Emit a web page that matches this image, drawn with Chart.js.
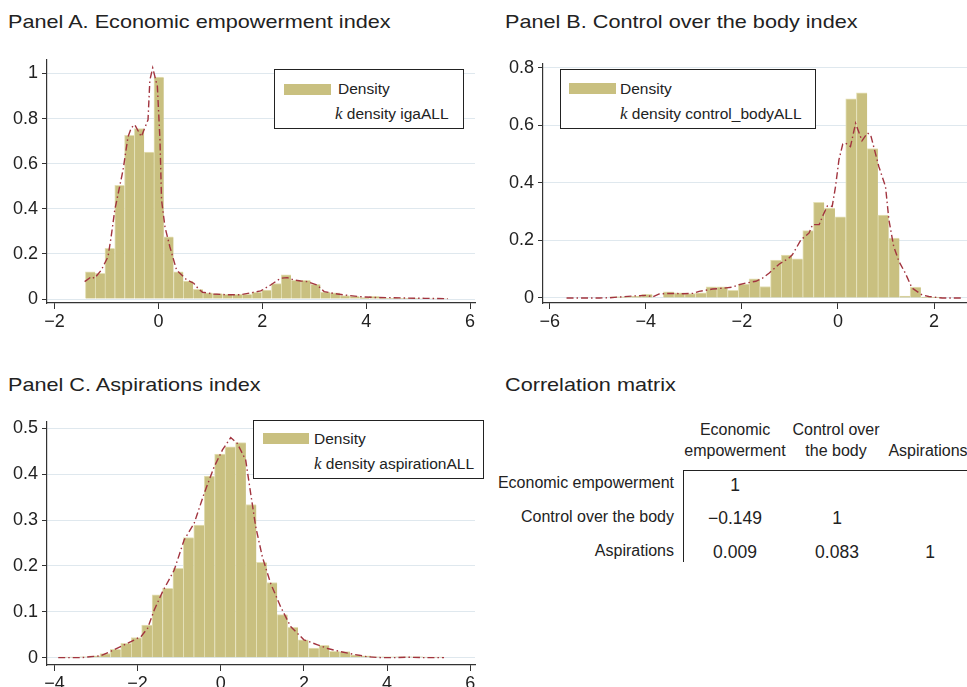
<!DOCTYPE html>
<html>
<head>
<meta charset="utf-8">
<script src="https://cdn.jsdelivr.net/npm/chart.js@4.4.1/dist/chart.umd.min.js"></script>
<style>
  body { margin: 0; background: #fff; }
  #page { position: relative; width: 967px; height: 687px; overflow: hidden; font-family: 'Liberation Sans', Arial, sans-serif; color: #222; }
  canvas { position: absolute; }
  .title { position: absolute; font-size: 18.5px; line-height: 22px; white-space: nowrap; transform: scaleX(1.17); transform-origin: left center; }
  .legend { position: absolute; box-sizing: border-box; border: 1.5px solid #222; background: #fff; z-index: 2; font-size: 15.5px; }
  .legend .sw { position: absolute; background: #c9c080; height: 11px; }
  .legend .tx { position: absolute; line-height: 18px; white-space: nowrap; }
  .legend i { font-family: 'Liberation Serif', 'DejaVu Serif', serif; font-size: 17px; }
  .cell { position: absolute; white-space: nowrap; transform: translate(-50%, -50%); font-size: 16px; line-height: 20px; }
  .rlab { position: absolute; white-space: nowrap; transform: translate(-100%, -50%); font-size: 16px; line-height: 20px; }
  .val { font-size: 17.5px; }
</style>
</head>
<body>
<div id="page">
  <div class="title" style="left:8px; top:11px">Panel A. Economic empowerment index</div>
  <div class="title" style="left:505px; top:11px">Panel B. Control over the body index</div>
  <div class="title" style="left:8px; top:374px">Panel C. Aspirations index</div>
  <div class="title" style="left:505px; top:374px">Correlation matrix</div>

  <canvas id="chartA" width="480" height="300" style="left:0; top:40px"></canvas>
  <canvas id="chartB" width="471" height="296" style="left:496px; top:44px"></canvas>
  <canvas id="chartC" width="480" height="285" style="left:0; top:402px"></canvas>

  <div class="legend" style="left:274px; top:69px; width:190px; height:60px">
    <div class="sw" style="left:9px; top:14px; width:47px"></div>
    <div class="tx" style="left:63px; top:10px">Density</div>
    <div class="tx" style="left:60px; top:35px"><i>k</i> density igaALL</div>
  </div>
  <div class="legend" style="left:560px; top:69px; width:256px; height:60px">
    <div class="sw" style="left:8px; top:13px; width:47px"></div>
    <div class="tx" style="left:59px; top:10px">Density</div>
    <div class="tx" style="left:59px; top:35px"><i>k</i> density control_bodyALL</div>
  </div>
  <div class="legend" style="left:253px; top:420px; width:231px; height:59px">
    <div class="sw" style="left:9px; top:12px; width:46px"></div>
    <div class="tx" style="left:60px; top:9px">Density</div>
    <div class="tx" style="left:60px; top:34px"><i>k</i> density aspirationALL</div>
  </div>

  <div id="matrix"></div>
  <div style="position:absolute; left:683px; top:470px; width:290px; height:1.3px; background:#222"></div>
  <div style="position:absolute; left:683px; top:470px; width:1.3px; height:92px; background:#222"></div>
</div>

<script>
// ---- Panel A: economic empowerment (histogram + kernel density)
const binsA = [-1.312, -1.123, -0.935, -0.746, -0.558, -0.369, -0.181, 0.008, 0.196, 0.385,
               0.573, 0.762, 0.950, 1.139, 1.327, 1.516, 1.704, 1.893, 2.081, 2.270,
               2.458, 2.647, 2.835, 3.024, 3.212, 3.401, 3.589, 3.778, 3.966, 4.155,
               4.343, 4.532, 4.720, 4.909, 5.097, 5.286, 5.474];
const densA = [0.121, 0.114, 0.225, 0.504, 0.726, 0.756, 0.652, 0.984, 0.276, 0.121,
               0.080, 0.043, 0.027, 0.024, 0.021, 0.021, 0.021, 0.030, 0.040, 0.068,
               0.107, 0.083, 0.083, 0.065, 0.031, 0.027, 0.015, 0.012, 0.006, 0.012,
               0.004, 0.003, 0.003, 0.003, 0.002, 0.002, 0.002];
const kdXA = [-1.42, -1.29, -1.23, -1.10, -0.97, -0.91, -0.84, -0.746, -0.68, -0.585, -0.52, -0.455,
              -0.33, -0.20, -0.165, -0.11, -0.02, 0.03, 0.06, 0.126, 0.22, 0.35, 0.55, 0.68, 0.77,
              0.85, 1.06, 1.32, 1.58, 1.77, 1.97, 2.16, 2.35, 2.48, 2.61, 2.74, 2.87, 3.06, 3.19,
              3.39, 3.65, 3.90, 4.16, 4.48, 4.80, 5.13, 5.57];
const kdYA = [0.077, 0.099, 0.092, 0.128, 0.188, 0.276, 0.395, 0.499, 0.573, 0.720, 0.760, 0.773,
              0.720, 0.795, 0.970, 1.025, 0.943, 0.706, 0.440, 0.320, 0.232, 0.128, 0.084, 0.070, 0.045,
              0.030, 0.022, 0.019, 0.019, 0.027, 0.036, 0.062, 0.092, 0.095, 0.084, 0.080, 0.077, 0.062, 0.033,
              0.024, 0.016, 0.010, 0.007, 0.006, 0.004, 0.003, 0.0015];
const xTicksA = [-2, 0, 2, 4, 6];
const yTicksA = [0, 0.2, 0.4, 0.6, 0.8, 1];
const yLabelsA = ['0', '0.2', '0.4', '0.6', '0.8', '1'];

// ---- Panel B: control over the body
const binsB = [-5.538, -5.315, -5.091, -4.868, -4.644, -4.421, -4.197, -3.974, -3.750, -3.527,
               -3.303, -3.080, -2.856, -2.633, -2.409, -2.186, -1.962, -1.739, -1.515, -1.292,
               -1.068, -0.845, -0.621, -0.398, -0.174, 0.049, 0.273, 0.496, 0.720, 0.943,
               1.167, 1.390, 1.614, 1.837, 2.061, 2.284, 2.508];
const densB = [0, 0, 0, 0, 0.004, 0.004, 0.006, 0.013, 0, 0.021,
               0.018, 0.015, 0.018, 0.039, 0.039, 0.027, 0.048, 0.067, 0.040, 0.132,
               0.149, 0.136, 0.234, 0.332, 0.312, 0.282, 0.692, 0.713, 0.519, 0.288,
               0.208, 0.007, 0.038, 0.003, 0.003, 0, 0];
const kdXB = [-5.65, -4.96, -4.75, -4.27, -3.99, -3.85, -3.72, -3.51, -3.23, -3.02, -2.89, -2.61,
              -2.33, -2.19, -2.06, -1.92, -1.71, -1.57, -1.43, -1.22, -1.02, -0.95, -0.77, -0.60,
              -0.53, -0.39, -0.32, -0.22, -0.12, -0.05, 0.02, 0.10, 0.16, 0.26, 0.367, 0.50,
              0.61, 0.68, 0.85, 0.99, 1.06, 1.16, 1.27, 1.40, 1.54, 1.75, 1.89, 2.17, 2.62];
const kdYB = [0.0, 0.0, 0.001, 0.007, 0.009, 0.004, 0.014, 0.016, 0.015, 0.016, 0.023, 0.031,
              0.035, 0.038, 0.046, 0.052, 0.058, 0.069, 0.087, 0.118, 0.139, 0.150, 0.202, 0.226,
              0.255, 0.255, 0.284, 0.320, 0.318, 0.388, 0.480, 0.535, 0.538, 0.526, 0.607, 0.546,
              0.573, 0.567, 0.457, 0.387, 0.272, 0.179, 0.127, 0.087, 0.035, 0.011, 0.005, 0.0, 0.0];
const xTicksB = [-6, -4, -2, 0, 2];
const yTicksB = [0, 0.2, 0.4, 0.6, 0.8];
const yLabelsB = ['0', '0.2', '0.4', '0.6', '0.8'];

// ---- Panel C: aspirations
const binsC = [-3.785, -3.534, -3.283, -3.032, -2.781, -2.531, -2.280, -2.029, -1.778, -1.527,
               -1.277, -1.026, -0.775, -0.524, -0.273, -0.023, 0.228, 0.479, 0.730, 0.981,
               1.231, 1.482, 1.733, 1.984, 2.235, 2.486, 2.736, 2.987, 3.238, 3.489,
               3.740, 3.990, 4.241, 4.492, 4.743, 4.994, 5.245];
const densC = [0.001, 0.001, 0.002, 0.004, 0.009, 0.018, 0.031, 0.044, 0.071, 0.137,
               0.151, 0.195, 0.262, 0.289, 0.396, 0.444, 0.460, 0.469, 0.334, 0.208,
               0.164, 0.094, 0.066, 0.039, 0.021, 0.027, 0.014, 0.013, 0.006, 0.004,
               0.002, 0.002, 0.002, 0.002, 0.002, 0.001, 0.001];
const kdXC = [-3.91, -3.37, -2.89, -2.57, -2.25, -1.92, -1.76, -1.60, -1.40, -1.12, -0.88, -0.64,
              -0.40, -0.16, 0.04, 0.24, 0.40, 0.60, 0.72, 0.84, 1.00, 1.20, 1.44, 1.68, 2.00,
              2.33, 2.57, 2.89, 3.21, 3.53, 3.85, 4.17, 4.49, 4.89, 5.37];
const kdYC = [0.0, 0.0, 0.004, 0.017, 0.031, 0.046, 0.064, 0.104, 0.144, 0.191, 0.257, 0.293,
              0.358, 0.416, 0.453, 0.480, 0.467, 0.431, 0.358, 0.286, 0.220, 0.162, 0.111, 0.068, 0.039,
              0.028, 0.020, 0.013, 0.007, 0.002, 0.0, 0.0, 0.001, 0.0, 0.0];
const xTicksC = [-4, -2, 0, 2, 4, 6];
const yTicksC = [0, 0.1, 0.2, 0.3, 0.4, 0.5];
const yLabelsC = ['0', '0.1', '0.2', '0.3', '0.4', '0.5'];

// ---- Correlation matrix
const matrixCols = [['Economic', 'empowerment'], ['Control over', 'the body'], ['', 'Aspirations']];
const matrixRows = ['Economic empowerment', 'Control over the body', 'Aspirations'];
const matrixVals = [['1', '', ''], ['\u22120.149', '1', ''], ['0.009', '0.083', '1']];

const FONT = "'Liberation Sans', Arial, sans-serif";
const BAR_FILL = '#c9c080';
const BAR_EDGE = '#e4e0b6';
const KD_COLOR = '#a2343f';
const GRID = '#dfe8ee';
const AXIS = '#333';

function fmtTick(v) {
    return v < 0 ? '\u2212' + Math.abs(v) : String(v);
}

function makePanel(id, bins, dens, kdX, kdY, opt) {
    const ctx = document.getElementById(id).getContext('2d');
    return new Chart(ctx, {
        type: 'bar',
        data: {
            datasets: [
                {
                    type: 'line',
                    label: 'k density',
                    data: kdX.map((x, i) => ({ x: x, y: kdY[i] })),
                    borderColor: KD_COLOR,
                    borderWidth: 1.4,
                    borderDash: [7, 3, 1.5, 3],
                    pointRadius: 0,
                    tension: 0,
                    fill: false,
                    order: 0
                },
                {
                    type: 'bar',
                    label: 'Density',
                    data: bins.map((x, i) => ({ x: x, y: dens[i] })),
                    backgroundColor: BAR_FILL,
                    borderColor: BAR_EDGE,
                    borderWidth: { left: 1, top: 1, right: 0, bottom: 0 },
                    borderSkipped: false,
                    barPercentage: 1,
                    categoryPercentage: 1,
                    order: 1
                }
            ]
        },
        options: {
            responsive: false,
            animation: false,
            events: [],
            layout: { padding: opt.padding },
            plugins: { legend: { display: false }, tooltip: { enabled: false } },
            scales: {
                x: {
                    type: 'linear',
                    min: opt.xMin,
                    max: opt.xMax,
                    offset: false,
                    grid: { drawOnChartArea: false, drawTicks: true, tickLength: 6, tickColor: AXIS, offset: false },
                    border: { display: true, color: AXIS, width: 1.2 },
                    ticks: {
                        font: { family: FONT, size: 18 },
                        color: '#222',
                        padding: 2,
                        maxRotation: 0,
                        autoSkip: false,
                        callback: v => fmtTick(v)
                    },
                    afterBuildTicks: s => { s.ticks = opt.xTicks.map(v => ({ value: v })); },
                    afterFit: s => { s.height = opt.xH; s.paddingLeft = 0; s.paddingRight = 0; }
                },
                y: {
                    type: 'linear',
                    min: opt.yMin,
                    max: opt.yMax,
                    grid: { color: GRID, lineWidth: 1, tickColor: AXIS, tickLength: 5 },
                    border: { display: true, color: AXIS, width: 1.2 },
                    ticks: {
                        font: { family: FONT, size: 18 },
                        color: '#222',
                        padding: 4,
                        callback: (v, i) => opt.yLabels[i]
                    },
                    afterBuildTicks: s => { s.ticks = opt.yTicks.map(v => ({ value: v })); },
                    afterFit: s => { s.width = 47; s.paddingTop = 0; s.paddingBottom = 0; }
                }
            }
        }
    });
}

function buildMatrix() {
    const box = document.getElementById('matrix');
    const colX = [735, 836, 928];
    const rowY = [483, 517, 551];
    const valX = [735, 837, 930];
    const valY = [485, 518, 552];
    let html = '';
    matrixCols.forEach((c, i) => {
        if (c[0]) html += `<div class="cell" style="left:${colX[i]}px; top:430px">${c[0]}</div>`;
        html += `<div class="cell" style="left:${colX[i]}px; top:451px">${c[1]}</div>`;
    });
    matrixRows.forEach((r, i) => {
        html += `<div class="rlab" style="left:674px; top:${rowY[i]}px">${r}</div>`;
    });
    matrixVals.forEach((row, i) => {
        row.forEach((v, j) => {
            if (v) html += `<div class="cell val" style="left:${valX[j]}px; top:${valY[i]}px">${v}</div>`;
        });
    });
    box.innerHTML = html;
}

window.onload = () => {
    makePanel('chartA', binsA, densA, kdXA, kdYA, {
        xMin: -2.145, xMax: 6.095, yMin: -0.0177, yMax: 1.06,
        xTicks: xTicksA, yTicks: yTicksA, yLabels: yLabelsA,
        xH: 37, padding: { left: 0, right: 5, top: 20, bottom: 0 }
    });
    makePanel('chartB', binsB, densB, kdXB, kdYB, {
        xMin: -6.14, xMax: 2.686, yMin: -0.0174, yMax: 0.813,
        xTicks: xTicksB, yTicks: yTicksB, yLabels: yLabelsB,
        xH: 37, padding: { left: 0, right: 0, top: 20, bottom: 0 }
    });
    makePanel('chartC', binsC, densC, kdXC, kdYC, {
        xMin: -4.18, xMax: 6.116, yMin: -0.016, yMax: 0.514,
        xTicks: xTicksC, yTicks: yTicksC, yLabels: yLabelsC,
        xH: 22, padding: { left: 0, right: 5, top: 20, bottom: 0 }
    });
    buildMatrix();
};
</script>
</body>
</html>
